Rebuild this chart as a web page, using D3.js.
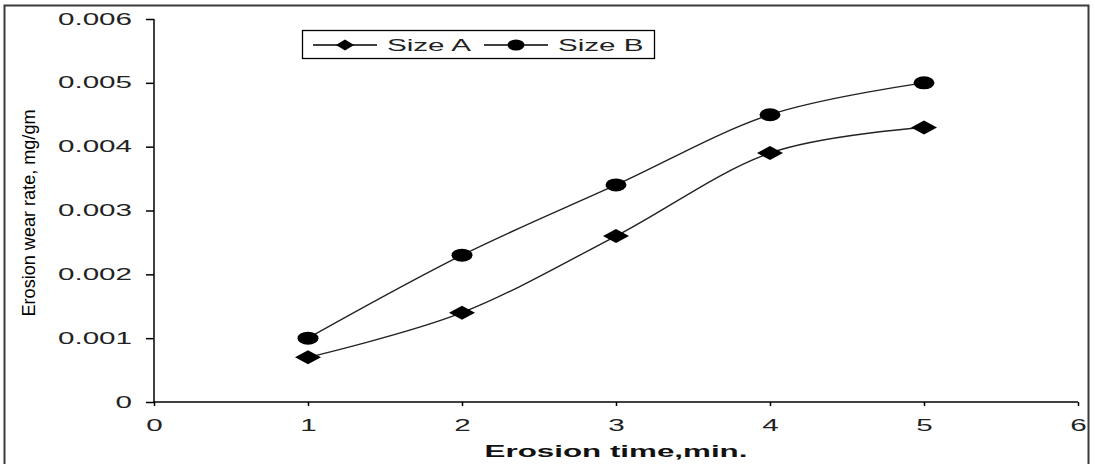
<!DOCTYPE html>
<html>
<head>
<meta charset="utf-8" />
<title>Erosion wear rate</title>
<script src="https://d3js.org/d3.v7.min.js"></script>
<style>
  body { margin: 0; background: #fff; }
  svg { display: block; font-family: "Liberation Sans", Arial, sans-serif; }
  .axis path, .axis line { stroke: #000; stroke-width: 1.5; }
  .axis text { fill: #222; font-size: 16px; }
</style>
</head>
<body>
<script type="text/javascript">
  // data
  var times = [1, 2, 3, 4, 5];
  var sizeA = [0.0007, 0.0014, 0.0026, 0.0039, 0.0043];
  var sizeB = [0.0010, 0.0023, 0.0034, 0.0045, 0.0050];
  var seriesNames = ['Size A', 'Size B'];
  var xTicks = [0, 1, 2, 3, 4, 5, 6];
  var yTicks = [0, 0.001, 0.002, 0.003, 0.004, 0.005, 0.006];

  var width = 1095, height = 464;
  var SX = 1.85; // the source picture is stretched sideways

  var svg = d3.select('body')
    .append('svg')
    .attr('width', width)
    .attr('height', height);

  svg.append('rect')
    .attr('width', width).attr('height', height)
    .attr('fill', '#fff');

  // outer frame
  svg.append('rect')
    .attr('x', 4.5).attr('y', 5.5)
    .attr('width', 1084).attr('height', 470)
    .attr('fill', 'none')
    .attr('stroke', '#3a3a3a')
    .attr('stroke-width', 2);

  var x = d3.scaleLinear().domain([0, 6]).range([154, 1078]);
  var y = d3.scaleLinear().domain([0, 0.006]).range([402, 19]);

  // y axis
  var yAxis = svg.append('g')
    .attr('class', 'axis')
    .attr('transform', 'translate(' + x(0) + ',0)')
    .call(d3.axisLeft(y)
      .tickValues(yTicks)
      .tickSize(8)
      .tickPadding(14)
      .tickFormat(function (d) { return d === 0 ? '0' : d3.format('.3f')(d); }));
  yAxis.select('.domain').attr('d', 'M0,' + y(0.006) + 'V' + y(0));
  yAxis.selectAll('text')
    .attr('transform', function () {
      return 'translate(' + d3.select(this).attr('x') + ',0) scale(' + SX + ',1)';
    })
    .attr('x', 0);

  // x axis
  var xAxis = svg.append('g')
    .attr('class', 'axis')
    .attr('transform', 'translate(0,' + y(0) + ')')
    .call(d3.axisBottom(x)
      .tickValues(xTicks)
      .tickSize(4)
      .tickPadding(14)
      .tickFormat(d3.format('d')));
  xAxis.select('.domain').attr('d', 'M' + x(0) + ',0H' + x(6));
  xAxis.selectAll('text')
    .attr('transform', function () {
      return 'translate(0,' + d3.select(this).attr('y') + ') scale(' + SX + ',1)';
    })
    .attr('y', 0);

  // axis titles
  svg.append('text')
    .attr('transform', 'translate(' + (x(0) + x(6)) / 2 + ',457) scale(1.96,1)')
    .attr('text-anchor', 'middle')
    .style('font-size', '16px')
    .style('font-weight', 'bold')
    .attr('fill', '#111')
    .text('Erosion time,min.');

  svg.append('text')
    .attr('transform', 'translate(35,213) scale(' + SX + ',1) rotate(-90)')
    .attr('text-anchor', 'middle')
    .attr('textLength', 207)
    .attr('lengthAdjust', 'spacingAndGlyphs')
    .style('font-size', '10px')
    .attr('fill', '#000')
    .text('Erosion wear rate, mg/gm');

  // lines
  var line = d3.line()
    .x(function (d) { return x(d[0]); })
    .y(function (d) { return y(d[1]); })
    .curve(d3.curveCardinal.tension(0));

  var dataA = times.map(function (t, i) { return [t, sizeA[i]]; });
  var dataB = times.map(function (t, i) { return [t, sizeB[i]]; });

  [dataA, dataB].forEach(function (d) {
    svg.append('path')
      .datum(d)
      .attr('d', line)
      .attr('fill', 'none')
      .attr('stroke', '#222')
      .attr('stroke-width', 1.4);
  });

  function diamond(rx, ry) {
    return 'M' + (-rx) + ',0L0,' + (-ry) + 'L' + rx + ',0L0,' + ry + 'Z';
  }

  svg.selectAll('.markA')
    .data(dataA)
    .enter()
    .append('path')
    .attr('class', 'markA')
    .attr('transform', function (d) { return 'translate(' + x(d[0]) + ',' + y(d[1]) + ')'; })
    .attr('d', diamond(13, 7))
    .attr('fill', '#000');

  svg.selectAll('.markB')
    .data(dataB)
    .enter()
    .append('ellipse')
    .attr('class', 'markB')
    .attr('cx', function (d) { return x(d[0]); })
    .attr('cy', function (d) { return y(d[1]); })
    .attr('rx', 10.5)
    .attr('ry', 6.5)
    .attr('fill', '#000');

  // legend
  var legend = svg.append('g').attr('transform', 'translate(302,30)');
  legend.append('rect')
    .attr('x', 0.5).attr('y', 0.5)
    .attr('width', 352).attr('height', 28)
    .attr('fill', '#fff')
    .attr('stroke', '#000')
    .attr('stroke-width', 1.3);

  var items = legend.selectAll('.item')
    .data(seriesNames)
    .enter()
    .append('g')
    .attr('class', 'item')
    .attr('transform', function (d, i) { return 'translate(' + (11 + i * 171) + ',15)'; });

  items.append('line')
    .attr('x1', 0).attr('x2', 64)
    .attr('stroke', '#000')
    .attr('stroke-width', 1.3);

  items.each(function (d, i) {
    var g = d3.select(this);
    if (i === 0) {
      g.append('path').attr('transform', 'translate(32,0)').attr('d', diamond(9, 5.5)).attr('fill', '#000');
    } else {
      g.append('ellipse').attr('cx', 32).attr('rx', 8.5).attr('ry', 5.5).attr('fill', '#000');
    }
  });

  items.append('text')
    .attr('transform', 'translate(74,6) scale(' + SX + ',1)')
    .style('font-size', '16px')
    .attr('fill', '#222')
    .text(function (d) { return d; });
</script>
</body>
</html>
